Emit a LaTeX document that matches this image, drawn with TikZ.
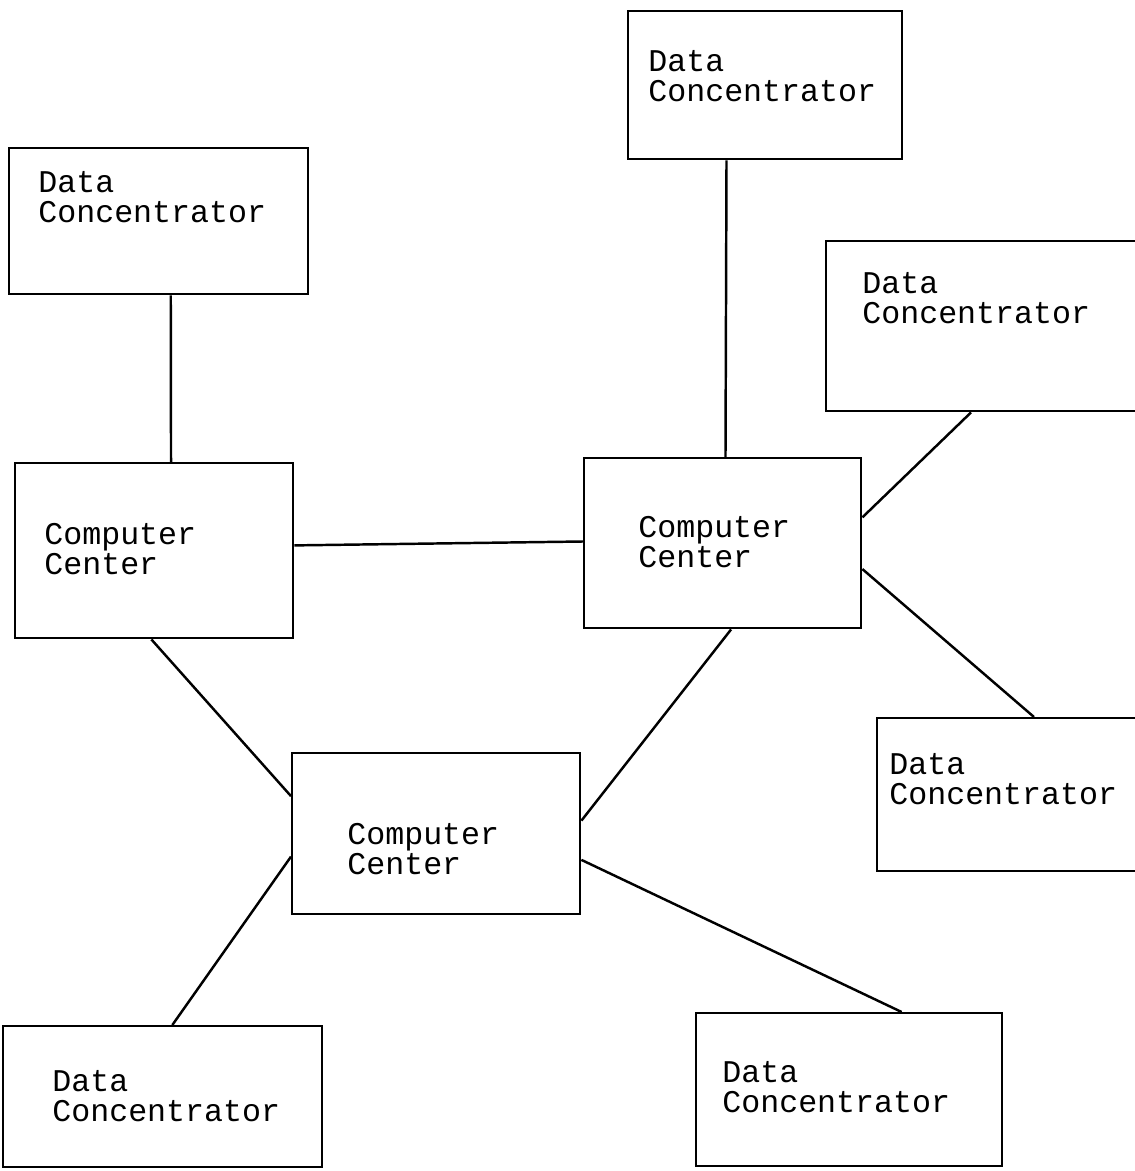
\documentclass[tikz,border=0pt]{standalone}
\usepackage{fontspec}
\setmonofont{Liberation Mono}
\usetikzlibrary{positioning, calc}

\begin{document}
\begin{tikzpicture}[
  x=0.02cm, y=-0.02cm,
  box/.style={
    rectangle, draw=black, line width=1.4pt,
    anchor=north west, inner sep=0pt
  },
  lbl/.style={
    anchor=west, inner sep=0pt, align=left,
    font=\fontsize{18}{17.5}\selectfont\ttfamily
  },
  link/.style={line width=1.4pt, color=black},
]
\useasboundingbox (0,0) rectangle (1135,1171);

% Boxes
\node[box, minimum width=5.98cm, minimum height=2.92cm] (dcA) at (8,147) {};
\node[box, minimum width=5.48cm, minimum height=2.96cm] (dcB) at (627,10) {};
\node[box, minimum width=6.3cm, minimum height=3.4cm] (dcC) at (825,240) {};
\node[box, minimum width=5.56cm, minimum height=3.5cm] (ccA) at (14,462) {};
\node[box, minimum width=5.54cm, minimum height=3.4cm] (ccB) at (583,457) {};
\node[box, minimum width=5.76cm, minimum height=3.22cm] (ccC) at (291,752) {};
\node[box, minimum width=5.4cm, minimum height=3.06cm] (dcD) at (876,717) {};
\node[box, minimum width=6.38cm, minimum height=2.82cm] (dcE) at (2,1025) {};
\node[box, minimum width=6.12cm, minimum height=3.06cm] (dcF) at (695,1012) {};

% Labels
\node[lbl] (tA) at (38,197) {Data\\Concentrator};
\node[lbl] (tB) at (648,76) {Data\\Concentrator};
\node[lbl] (tC) at (862,298) {Data\\Concentrator};
\node[lbl] (tD) at (44,549) {Computer\\Center};
\node[lbl] (tE) at (638,542) {Computer\\Center};
\node[lbl] (tF) at (347,849) {Computer\\Center};
\node[lbl] (tG) at (889,779) {Data\\Concentrator};
\node[lbl] (tH) at (52,1096) {Data\\Concentrator};
\node[lbl] (tI) at (722,1087) {Data\\Concentrator};

% Links
\draw[link] ($(dcA.south west)!0.54!(dcA.south east)$) -- ($(ccA.north west)!0.56!(ccA.north east)$);
\draw[link] ($(dcB.south west)!0.36!(dcB.south east)$) -- ($(ccB.north west)!0.51!(ccB.north east)$);
\draw[link] ($(ccA.north east)!0.47!(ccA.south east)$) -- ($(ccB.north west)!0.49!(ccB.south west)$);
\draw[link] ($(dcC.south west)!0.46!(dcC.south east)$) -- ($(ccB.north east)!0.35!(ccB.south east)$);
\draw[link] ($(ccB.north east)!0.65!(ccB.south east)$) -- ($(dcD.north west)!0.58!(dcD.north east)$);
\draw[link] ($(ccA.south west)!0.49!(ccA.south east)$) -- ($(ccC.north west)!0.27!(ccC.south west)$);
\draw[link] ($(ccB.south west)!0.53!(ccB.south east)$) -- ($(ccC.north east)!0.42!(ccC.south east)$);
\draw[link] ($(ccC.north west)!0.64!(ccC.south west)$) -- ($(dcE.north west)!0.53!(dcE.north east)$);
\draw[link] ($(ccC.north east)!0.66!(ccC.south east)$) -- ($(dcF.north west)!0.67!(dcF.north east)$);

\end{tikzpicture}
\end{document}
